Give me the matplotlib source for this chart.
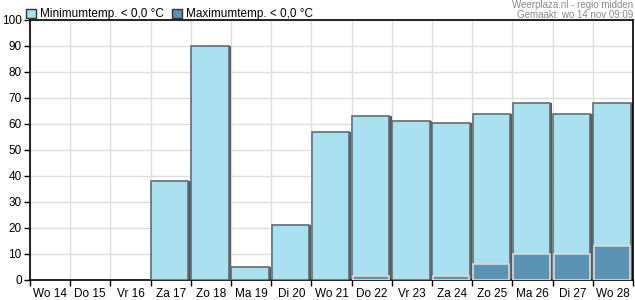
import matplotlib.pyplot as plt
import numpy as np

plt.rcParams['font.family'] = ['Liberation Sans', 'DejaVu Sans']

# Dagen en kansen (%)
dagen = ['Wo 14', 'Do 15', 'Vr 16', 'Za 17', 'Zo 18', 'Ma 19', 'Di 20', 'Wo 21',
         'Do 22', 'Vr 23', 'Za 24', 'Zo 25', 'Ma 26', 'Di 27', 'Wo 28']
min_temp = [0, 0, 0, 38, 90, 5, 21, 57, 63, 61, 60.5, 64, 68, 64, 68]
max_temp = [0, 0, 0, 0, 0, 0, 0, 0, 1.7, 0, 1.7, 6, 10, 10, 13]

licht = '#aae1f1'
donker = '#5b93b4'

fig = plt.figure(figsize=(6.35, 3.0), dpi=100)
ax = fig.add_axes([30 / 635, 20 / 300, 603 / 635, 260 / 300])

x = np.arange(len(dagen))
links = x - 0.5

# schaduw + lichte balken
mn = np.array(min_temp)
mx = np.array(max_temp)
toon_min = mn > 0
toon_max = mx > 0
ax.bar(links[toon_min] + 0.045, mn[toon_min], width=0.95, align='edge',
       color='#5a5a5a', zorder=2)
ax.bar(links[toon_min] + 0.01, mn[toon_min], width=0.93, align='edge',
       color=licht, edgecolor='#626c74', linewidth=1.2, zorder=3,
       label='Minimumtemp. < 0,0 °C')
ax.bar(links[toon_max] + 0.025, mx[toon_max], width=0.9, align='edge',
       color=donker, edgecolor='#d8d8d8', linewidth=1.2, zorder=4,
       label='Maximumtemp. < 0,0 °C')

ax.set_xlim(-0.5, len(dagen) - 0.5)
ax.set_ylim(0, 100)
ax.set_yticks(np.arange(0, 101, 10))
ax.set_xticks(np.arange(len(dagen) + 1) - 0.5)
ax.set_xticklabels([])
ax.set_xticks(x, minor=True)
ax.set_xticklabels(dagen, minor=True)
ax.tick_params(axis='x', which='minor', length=0, pad=6, labelsize=8.5)
ax.tick_params(axis='x', which='major', length=4, width=1, direction='out')
ax.tick_params(axis='y', length=4, width=1, direction='out', pad=2, labelsize=8.5)
ax.grid(True, which='major', color='#dddddd', linewidth=1, zorder=0)
ax.set_axisbelow(True)
for s in ax.spines.values():
    s.set_linewidth(1.2)
    s.set_color('black')

leg = ax.legend(loc='lower left', bbox_to_anchor=(-0.008, 0.995), ncol=2, frameon=False,
                fontsize=8.5, handlelength=0.8, handleheight=0.8, handletextpad=0.35,
                columnspacing=0.7, borderaxespad=0, borderpad=0.1)
for p in leg.get_patches():
    p.set_edgecolor('#333333')
    p.set_linewidth(1)

fig.text(633 / 635, 1 - 0 / 300, 'Weerplaza.nl - regio midden', ha='right', va='top',
         fontsize=7, color='#8a8a8a', zorder=10)
fig.text(633 / 635, 1 - 9.5 / 300, 'Gemaakt: wo 14 nov 09:09', ha='right', va='top',
         fontsize=7, color='#8a8a8a', zorder=10)

fig.savefig('out.png', dpi=100)
